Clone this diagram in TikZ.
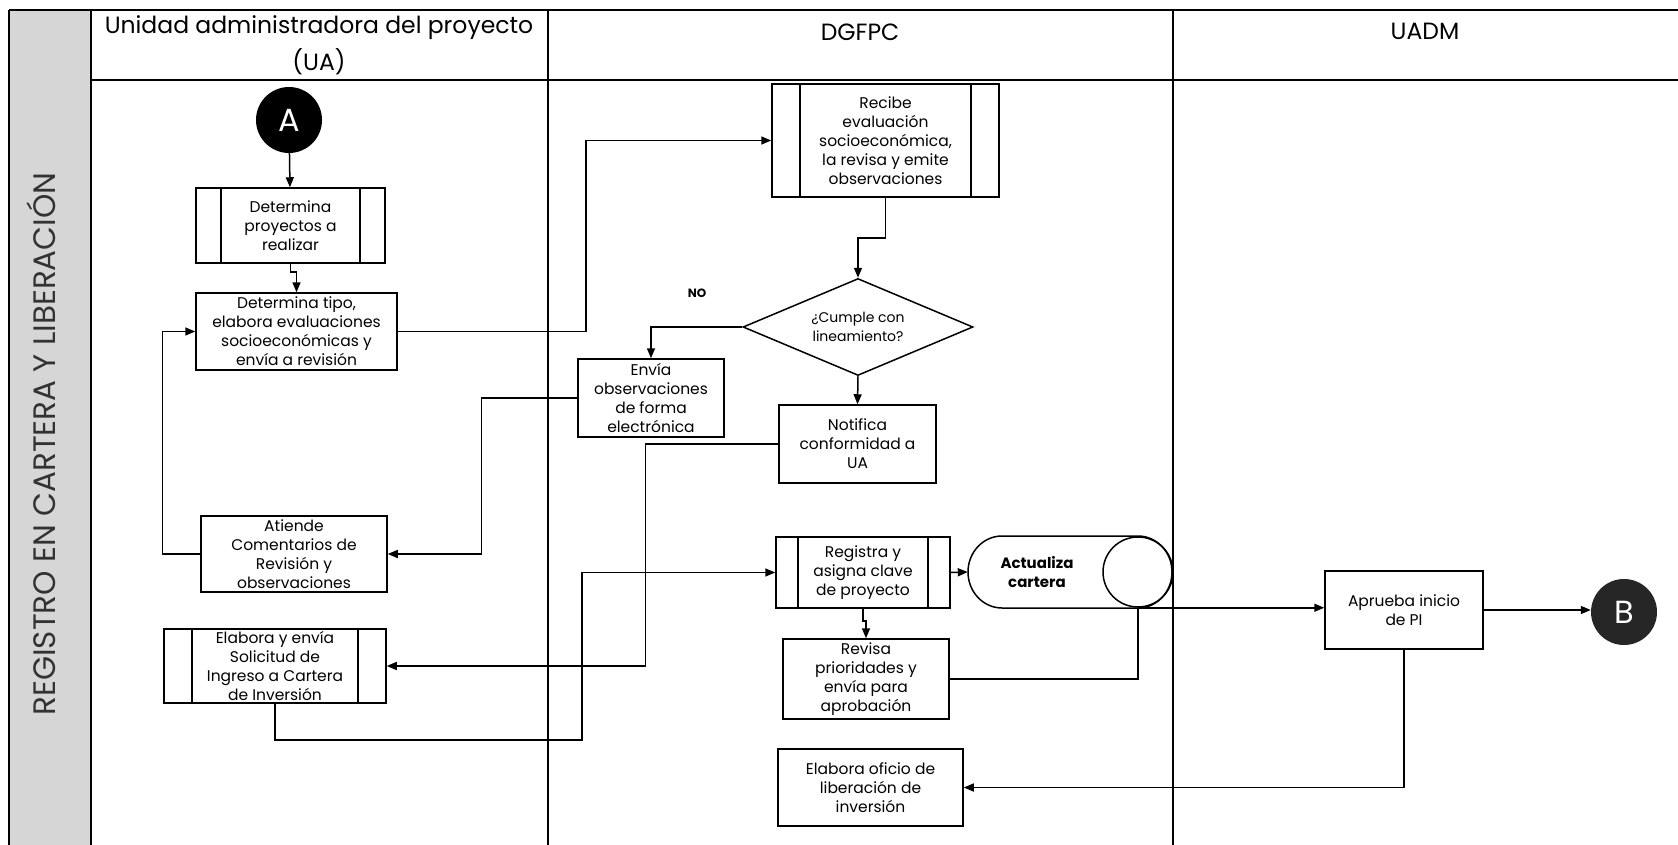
\documentclass[tikz,border=0pt]{standalone}
\usepackage{fontspec}
\setmainfont{Poppins}
\usetikzlibrary{shapes.geometric,arrows.meta,calc}
\begin{document}
\begin{tikzpicture}[x=1pt,y=-1pt,
  txt/.style={font=\fontsize{15.5}{19}\selectfont, text=black},
  procbox/.style={txt, draw, line width=1.5pt, rectangle, inner sep=0pt, align=center},
  predbox/.style={procbox, path picture={
      \draw[line width=1.5pt] ([xshift=#1]path picture bounding box.north west) -- ([xshift=#1]path picture bounding box.south west);
      \draw[line width=1.5pt] ([xshift=-#1]path picture bounding box.north east) -- ([xshift=-#1]path picture bounding box.south east);}},
  conn/.style={line width=1.5pt, -{Triangle[length=10pt,width=8pt]}},
  plainline/.style={line width=1.5pt},
  lane/.style={line width=1.3pt},
  hdr/.style={font=\fontsize{23.5}{37}\selectfont, align=center},
  conector/.style={circle, fill=black, inner sep=0pt, minimum size=66pt, text=white, font=\fontsize{32}{32}\selectfont},
]
\useasboundingbox (0,0) rectangle (1678,845);
\fill[white] (0,0) rectangle (1678,845);

% --- swimlane frame ---
\fill[gray!32] (9,10) rectangle (91,845);
\draw[lane] (9,10) -- (1678,10);
\draw[lane] (91,80) -- (1678,80);
\draw[lane] (9,10) -- (9,845);
\draw[lane] (91,10) -- (91,845);
\draw[lane] (548,10) -- (548,845);
\draw[lane] (1173,10) -- (1173,845);

\node[rotate=90, anchor=base, text=black!80, font=\fontsize{31}{31}\selectfont] (side) at (55,444) {REGISTRO EN CARTERA Y LIBERACIÓN};

\node[hdr] (hUA) at (319,45) {Unidad administradora del proyecto\\(UA)};
\node[hdr] (hDG) at (860,32) {DGFPC};
\node[hdr] (hUM) at (1425,31) {UADM};

% --- nodes ---
\node[conector] (A) at (289,120) {A};
\node[predbox=25pt, minimum width=189pt, minimum height=75pt] (b1) at (290.5,225.5) {Determina\\proyectos a\\realizar};
\node[procbox, minimum width=201pt, minimum height=77pt] (b2) at (296.5,331.5) {Determina tipo,\\elabora evaluaciones\\socioeconómicas y\\envía a revisión};
\node[procbox, minimum width=186pt, minimum height=76pt] (b3) at (294,554) {Atiende\\Comentarios de\\Revisión y\\observaciones};
\node[predbox=28pt, minimum width=222pt, minimum height=74pt] (b4) at (275,666) {Elabora y envía\\Solicitud de\\Ingreso a Cartera\\de Inversión};

\node[predbox=28pt, minimum width=227pt, minimum height=113pt] (recibe) at (885.5,140.5) {Recibe\\evaluación\\socioeconómica,\\la revisa y emite\\observaciones};
\node[draw, diamond, aspect=2.37, minimum width=230pt, minimum height=97pt, inner sep=0pt, line width=1.5pt, align=center, font=\fontsize{14}{19}\selectfont] (dec) at (858,327) {¿Cumple con\\lineamiento?};
\node[font=\bfseries\fontsize{12}{12}\selectfont] (no) at (697,293) {NO};
\node[procbox, minimum width=146pt, minimum height=78pt] (envia) at (651,398) {Envía\\observaciones\\de forma\\electrónica};
\node[procbox, minimum width=157pt, minimum height=78pt] (notifica) at (857.5,444) {Notifica\\conformidad a\\UA};
\node[predbox=22pt, minimum width=174pt, minimum height=71pt] (registra) at (863,572.5) {Registra y\\asigna clave\\de proyecto};
\node[procbox, minimum width=166pt, minimum height=80pt] (revisa) at (866,679) {Revisa\\prioridades y\\envía para\\aprobación};
\node[procbox, minimum width=185pt, minimum height=77pt] (oficio) at (870.5,787.5) {Elabora oficio de\\liberación de\\inversión};

% Actualiza cartera (storage shape)
\draw[plainline] (1002,536) -- (1138,536) arc[start angle=-90, end angle=90, x radius=34, y radius=36] -- (1002,608) arc[start angle=90, end angle=270, x radius=34, y radius=36] -- cycle;
\node[circle, draw, line width=1.5pt, minimum size=70pt, inner sep=0pt] (actc) at (1138,572) {};
\node[txt, font=\bfseries\fontsize{15}{19}\selectfont, align=center, minimum width=138pt, minimum height=72pt, inner sep=0pt] (act) at (1037,572) {Actualiza\\cartera};

\node[procbox, minimum width=158pt, minimum height=78pt] (aprueba) at (1404,610) {Aprueba inicio\\de PI};
\node[conector, fill=black!85] (B) at (1624,612) {B};

% --- connectors ---
\draw[conn] (A) -- (b1);
\draw[conn] (b1.south) -- ++(0,8) -| (b2.north);
\draw[conn] (b3.west) -- ++(-38,0) |- (b2.west);
\draw[conn] (b2.east) -- ++(188,0) |- (recibe.west);
\draw[conn] (recibe.south) -- ++(0,40) -| (dec.north);
\draw[conn] (dec.west) -| (envia.north);
\draw[conn] (dec.south) -- (notifica.north);
\draw[conn] (envia.west) -- ++(-96,0) |- (b3.east);
\draw[conn] (notifica.west) -- ++(-133,0) |- (b4.east);
\draw[conn] (b4.south) -- ++(0,36) -- ++(307,0) |- (registra.west);
\draw[conn] (registra.east) -- (act.west);
\draw[conn] (registra.south) -- ++(0,12) -| (revisa.north);
\draw[plainline] (revisa.east) -| (actc.south);
\draw[conn] (actc.south) -- (aprueba.west |- actc.south);
\draw[conn] (aprueba.east) -- (aprueba.east -| B.west);
\draw[conn] (aprueba.south) |- (oficio.east);
\end{tikzpicture}
\end{document}
